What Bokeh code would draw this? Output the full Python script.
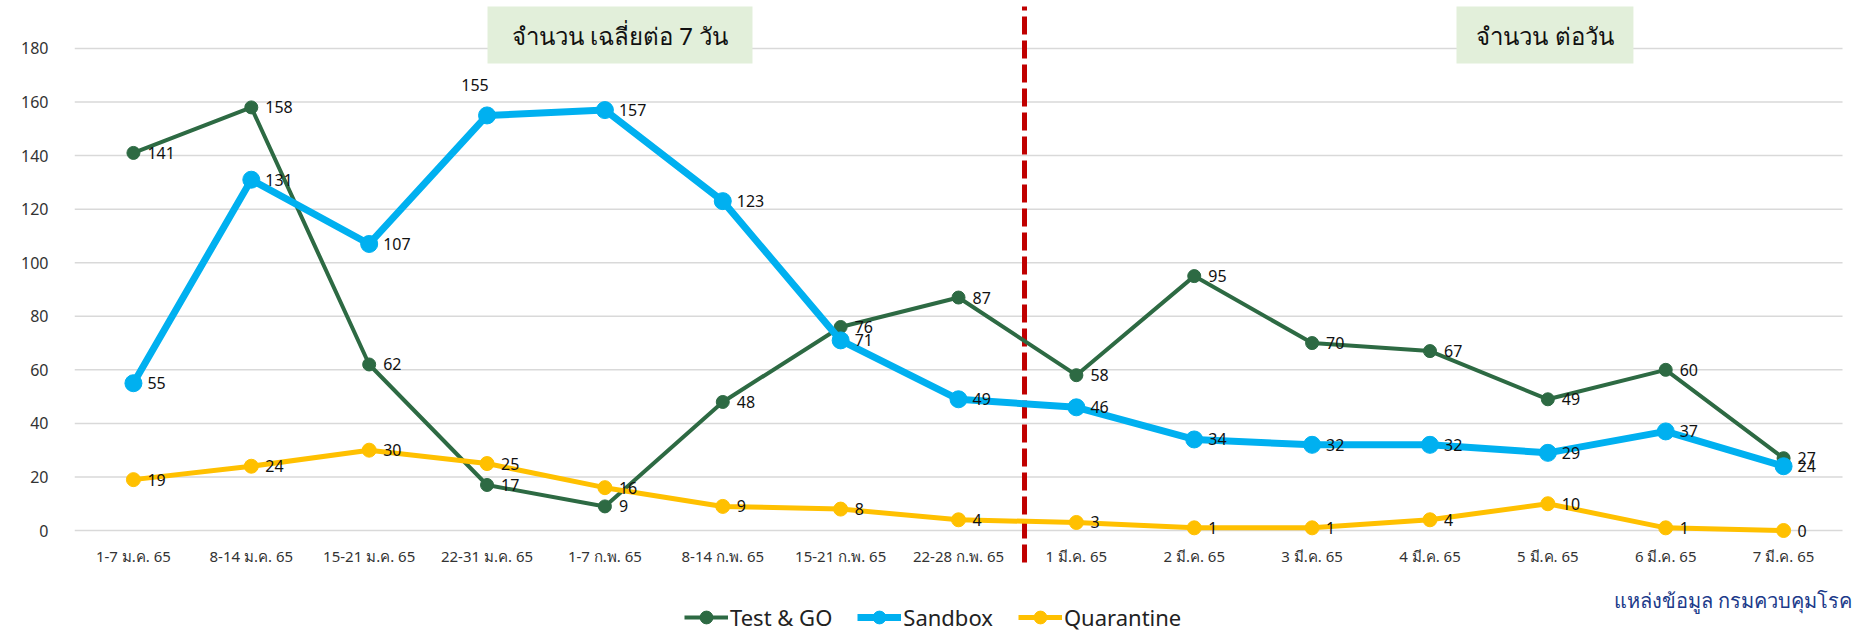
from bokeh.plotting import figure
from bokeh.models import (FixedTicker, BoxAnnotation, Label, Legend, LegendItem,
                          ColumnDataSource)
from bokeh.embed import file_html
from bokeh.resources import INLINE
from bokeh.core.properties import value

categories = ["1-7 ม.ค. 65", "8-14 ม.ค. 65", "15-21 ม.ค. 65", "22-31 ม.ค. 65",
              "1-7 ก.พ. 65", "8-14 ก.พ. 65", "15-21 ก.พ. 65", "22-28 ก.พ. 65",
              "1 มี.ค. 65", "2 มี.ค. 65", "3 มี.ค. 65", "4 มี.ค. 65",
              "5 มี.ค. 65", "6 มี.ค. 65", "7 มี.ค. 65"]
test_go = [141, 158, 62, 17, 9, 48, 76, 87, 58, 95, 70, 67, 49, 60, 27]
sandbox = [55, 131, 107, 155, 157, 123, 71, 49, 46, 34, 32, 32, 29, 37, 24]
quarantine = [19, 24, 30, 25, 16, 9, 8, 4, 3, 1, 1, 4, 10, 1, 0]
y_ticks = [0, 20, 40, 60, 80, 100, 120, 140, 160, 180]
series_names = ["Test & GO", "Sandbox", "Quarantine"]
title_left = "จำนวน เฉลี่ยต่อ 7 วัน"
title_right = "จำนวน ต่อวัน"
source_text = "แหล่งข้อมูล กรมควบคุมโรค"

FONT = "Noto Sans"
W, H = 1865, 633
x = list(range(len(categories)))
n = len(categories)

p = figure(width=W, height=H, output_backend="svg", toolbar_location=None,
           x_range=(-0.5, n - 0.5 + 0.195), y_range=(-38.46, 197.92),
           min_border_left=74, min_border_right=0, min_border_top=0, min_border_bottom=0)
p.outline_line_color = None
p.background_fill_color = "white"
p.border_fill_color = "white"

# axes
p.xaxis.ticker = FixedTicker(ticks=x)
p.xaxis.major_label_overrides = {i: c for i, c in enumerate(categories)}
p.xaxis.axis_line_color = None
p.xaxis.major_tick_line_color = None
p.xaxis.minor_tick_line_color = None
p.xaxis.major_tick_out = 0
p.xaxis.major_label_standoff = -88
p.xaxis.major_label_text_font = FONT
p.xaxis.major_label_text_font_size = "15px"
p.xaxis.major_label_text_color = "#333333"

p.yaxis.ticker = FixedTicker(ticks=y_ticks)
p.yaxis.axis_line_color = None
p.yaxis.major_tick_line_color = None
p.yaxis.minor_tick_line_color = None
p.yaxis.major_tick_out = 0
p.yaxis.major_label_standoff = 26
p.yaxis.major_label_text_font = FONT
p.yaxis.major_label_text_font_size = "16px"
p.yaxis.major_label_text_color = "#333333"

# horizontal gridlines limited to the category span
p.xgrid.visible = False
p.ygrid.visible = False
p.segment(x0=[-0.5] * len(y_ticks), y0=y_ticks, x1=[n - 0.5] * len(y_ticks), y1=y_ticks,
          line_color="#d9d9d9", line_width=1.5, level="underlay")

# title boxes
p.add_layout(BoxAnnotation(left=3.004, right=5.252, bottom=174.4, top=195.7,
                           fill_color="#e2efda", fill_alpha=1.0, line_color=None))
p.add_layout(BoxAnnotation(left=11.225, right=12.726, bottom=174.4, top=195.7,
                           fill_color="#e2efda", fill_alpha=1.0, line_color=None))
p.add_layout(Label(x=4.128, y=185.0, text=title_left, text_align="center",
                   text_baseline="middle", text_font=FONT, text_font_size="24px",
                   text_color="#111111"))
p.add_layout(Label(x=11.976, y=185.0, text=title_right, text_align="center",
                   text_baseline="middle", text_font=FONT, text_font_size="24px",
                   text_color="#111111"))

# divider between weekly averages and daily values
p.segment(x0=[7.56], y0=[-11.95], x1=[7.56], y1=[195.7], line_color="#c00000",
          line_width=5, line_dash="18 6")

colors = ["#2d6a43", "#00b0f0", "#ffc000"]
widths = [4, 7, 5]
sizes = [13, 17, 14]
all_vals = [test_go, sandbox, quarantine]

items = []
for name, vals, c, lw, sz in zip(series_names, all_vals, colors, widths, sizes):
    src = ColumnDataSource(dict(x=x, y=vals))
    l = p.line("x", "y", source=src, line_color=c, line_width=lw)
    s = p.scatter("x", "y", source=src, size=sz, fill_color=c, line_color=c)
    items.append(LegendItem(label=name, renderers=[l, s]))

# data labels
for name, vals in zip(series_names, all_vals):
    dx = [14] * len(vals)
    dy = [0] * len(vals)
    al = ["left"] * len(vals)
    if name == "Sandbox":
        i = 3
        dx[i] = -12
        dy[i] = -30
        al[i] = "center"
    lsrc = ColumnDataSource(dict(x=x, y=vals, t=[str(v) for v in vals], dx=dx, dy=dy, al=al))
    p.text("x", "y", text="t", source=lsrc, x_offset="dx", y_offset="dy", text_align="al",
           text_baseline="middle", text_font=value(FONT), text_font_size="16px",
           text_color="#111111")

legend = Legend(items=items, orientation="horizontal", location=(610, 0),
                padding=0, margin=0, spacing=25, glyph_width=44, glyph_height=32,
                label_standoff=2, label_text_font=FONT, label_text_font_size="22px",
                label_text_color="#222222", border_line_color=None,
                background_fill_alpha=0)
p.add_layout(legend)

p.add_layout(Label(x=14.58, y=-26.1, text=source_text,
                   text_align="right", text_baseline="middle", text_font=FONT,
                   text_font_size="20px", text_color="#203a8a"))

open("out.html", "w").write(file_html(p, INLINE))
